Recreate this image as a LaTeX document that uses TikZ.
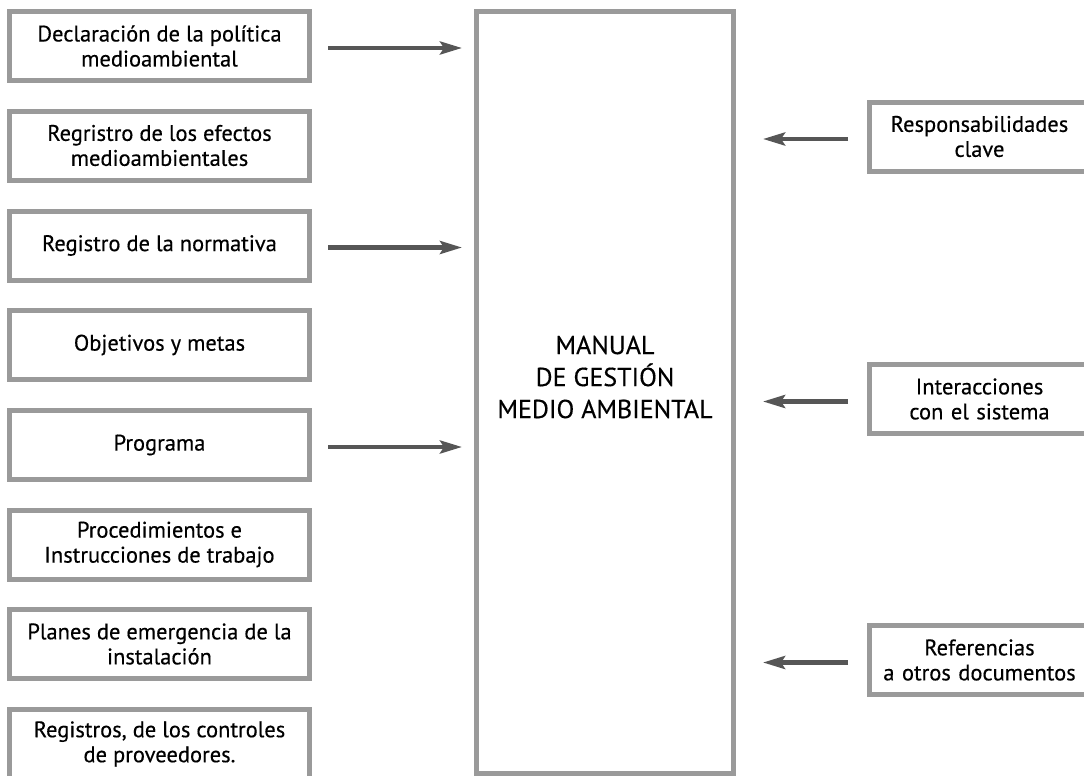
\documentclass[tikz,border=0pt]{standalone}
\usepackage{fontspec}
\setmainfont{PT Sans}[BoldFont=PT Sans, BoldFeatures={FakeBold=0.35}]
\usetikzlibrary{arrows.meta}
\definecolor{framegray}{HTML}{9A9A9A}
\definecolor{arrowgray}{HTML}{565656}
\begin{document}
\begin{tikzpicture}[x=1pt,y=-1pt,
  box/.style={draw=framegray, line width=5pt, fill=white, rectangle,
    align=center, inner sep=0pt, font=\fontsize{22.5}{25}\selectfont\bfseries},
  leftbox/.style={box, minimum width=300pt, minimum height=69pt},
  rightbox/.style={box, minimum width=220pt, minimum height=69pt, text width=200pt},
  flow/.style={draw=arrowgray, line width=4.3pt,
    -{Stealth[length=22pt,width=13pt,inset=4pt]}}]
\useasboundingbox (0,0) rectangle (1084,776);
\begin{scope}
\clip (0,0) rectangle (1084,776);
% central manual
\node[box, minimum width=257pt, minimum height=762pt] (manual) at (605,392.5) {};
\node[font=\fontsize{26}{32}\selectfont\bfseries, align=center] (title) at (605,377)
  {MANUAL\\DE GESTIÓN\\MEDIO AMBIENTAL};
% documents on the left
\node[leftbox] (d1) at (159.5,46)    {Declaración de la política\\medioambiental};
\node[leftbox] (d2) at (159.5,145.5) {Regristro de los efectos\\medioambientales};
\node[leftbox] (d3) at (159.5,245.5) {Registro de la normativa};
\node[leftbox] (d4) at (159.5,345)   {Objetivos y metas};
\node[leftbox] (d5) at (159.5,445)   {Programa};
\node[leftbox] (d6) at (159.5,544.5) {Procedimientos e\\Instrucciones de trabajo};
\node[leftbox] (d7) at (159.5,644)   {Planes de emergencia de la\\instalación};
\node[leftbox] (d8) at (159.5,744)   {Registros, de los controles\\de proveedores.};
% contents on the right
\node[rightbox] (r1) at (979.5,136.5) {Responsabilidades\\clave};
\node[rightbox] (r2) at (979.5,399)   {Interacciones\\con el sistema};
\node[rightbox] (r3) at (979.5,660)   {Referencias\\a otros documentos};
\end{scope}
% connectors
\foreach \d in {d1,d3,d5}
  \draw[flow, shorten <=16pt, shorten >=12pt]
    ([yshift=-2pt]\d.east) -- ([yshift=-2pt]\d.east -| manual.west);
\foreach \r in {r1,r2,r3}
  \draw[flow, shorten <=19pt, shorten >=27pt]
    ([yshift=-2.5pt]\r.west) -- ([yshift=-2.5pt]\r.west -| manual.east);
\end{tikzpicture}
\end{document}
